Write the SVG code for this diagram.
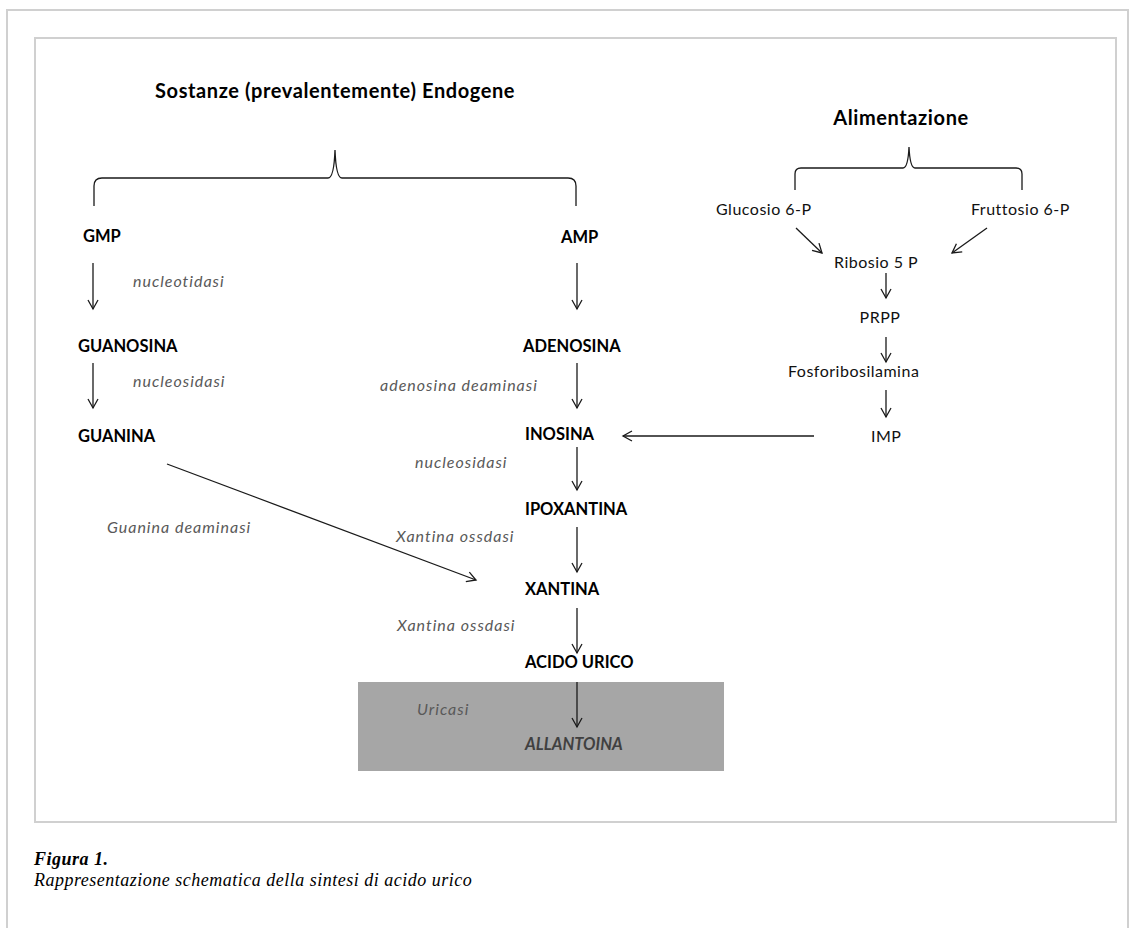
<svg xmlns="http://www.w3.org/2000/svg" width="1130" height="928" viewBox="0 0 1130 928">
<defs>
<style>
.frame{fill:none;stroke:#d0d0d0;stroke-width:2}
.b{font-family:Lato,"Open Sans",sans-serif;font-weight:bold;font-size:16.5px;fill:#000}
.h{font-family:Lato,"Open Sans",sans-serif;font-weight:bold;font-size:20px;letter-spacing:0.6px;fill:#000}
.n{font-family:Lato,"Open Sans",sans-serif;font-size:16px;letter-spacing:0.5px;fill:#111}
.e{font-family:Lato,"Open Sans",sans-serif;font-style:italic;font-size:16px;letter-spacing:1px;fill:#595959}
.cap{font-family:"Liberation Serif",serif;font-style:italic;font-size:18px;letter-spacing:0.5px;fill:#000}
.ln{fill:none;stroke:#1a1a1a;stroke-width:1.3}
</style>
<marker id="ah" markerWidth="12" markerHeight="12" refX="10" refY="6" orient="auto" markerUnits="userSpaceOnUse">
<path d="M1,1 L10,6 L1,11" fill="none" stroke="#1a1a1a" stroke-width="1.3"/>
</marker>
</defs>
<rect width="1130" height="928" fill="#fff"/>
<path class="frame" d="M7,928 L7,10 L1128,10 L1128,928"/>
<rect class="frame" x="35" y="38" width="1081" height="784"/>
<rect x="358" y="682" width="366" height="89" fill="#a6a6a6"/>

<g id="titles">
<text class="h" x="155" y="98">Sostanze (prevalentemente) Endogene</text>
<text class="h" x="901" y="125" text-anchor="middle">Alimentazione</text>
</g>

<g id="braces">
<path class="ln" d="M94,206 L94,186 Q94,178 102,178 L328,178 Q334,178 335,150 Q336,178 342,178 L568,178 Q576,178 576,186 L576,206"/>
<path class="ln" d="M795,190 L795,174 Q795,168 801,168 L903,168 Q908,168 909,147 Q910,168 915,168 L1016,168 Q1022,168 1022,174 L1022,190"/>
</g>

<g id="node-gmp"><text class="b" x="83" y="242">GMP</text></g>
<g id="node-amp"><text class="b" x="561" y="243">AMP</text></g>
<g id="node-guanosina"><text class="b" x="78" y="352">GUANOSINA</text></g>
<g id="node-adenosina"><text class="b" x="523" y="352">ADENOSINA</text></g>
<g id="node-guanina"><text class="b" x="78" y="442">GUANINA</text></g>
<g id="node-inosina"><text class="b" x="525" y="440">INOSINA</text></g>
<g id="node-ipoxantina"><text class="b" x="525" y="515">IPOXANTINA</text></g>
<g id="node-xantina"><text class="b" x="525" y="595">XANTINA</text></g>
<g id="node-acido"><text class="b" x="525" y="668">ACIDO URICO</text></g>
<g id="node-allantoina"><text class="b" x="525" y="750" font-style="italic" style="fill:#404040">ALLANTOINA</text></g>
<g id="node-glucosio"><text class="n" x="716" y="215">Glucosio 6-P</text></g>
<g id="node-fruttosio"><text class="n" x="971" y="215">Fruttosio 6-P</text></g>
<g id="node-ribosio"><text class="n" x="834" y="268">Ribosio 5 P</text></g>
<g id="node-prpp"><text class="n" x="880" y="323" text-anchor="middle">PRPP</text></g>
<g id="node-fosfo"><text class="n" x="788" y="377">Fosforibosilamina</text></g>
<g id="node-imp"><text class="n" x="871" y="442">IMP</text></g>

<g id="enzymes">
<text class="e" x="133" y="287">nucleotidasi</text>
<text class="e" x="133" y="387">nucleosidasi</text>
<text class="e" x="380" y="391">adenosina deaminasi</text>
<text class="e" x="415" y="468">nucleosidasi</text>
<text class="e" x="107" y="533">Guanina deaminasi</text>
<text class="e" x="396" y="542">Xantina ossdasi</text>
<text class="e" x="397" y="631">Xantina ossdasi</text>
<text class="e" x="417" y="715">Uricasi</text>
</g>

<g id="connectors">
<line class="ln" x1="93" y1="263" x2="93" y2="309" marker-end="url(#ah)"/>
<line class="ln" x1="577" y1="263" x2="577" y2="309" marker-end="url(#ah)"/>
<line class="ln" x1="93" y1="363" x2="93" y2="408" marker-end="url(#ah)"/>
<line class="ln" x1="577" y1="363" x2="577" y2="408" marker-end="url(#ah)"/>
<line class="ln" x1="577" y1="447" x2="577" y2="490" marker-end="url(#ah)"/>
<line class="ln" x1="577" y1="527" x2="577" y2="572" marker-end="url(#ah)"/>
<line class="ln" x1="577" y1="608" x2="577" y2="653" marker-end="url(#ah)"/>
<line class="ln" x1="577" y1="682" x2="577" y2="727" marker-end="url(#ah)"/>
<line class="ln" x1="167" y1="464" x2="476" y2="580" marker-end="url(#ah)"/>
<line class="ln" x1="796" y1="228" x2="822" y2="253" marker-end="url(#ah)"/>
<line class="ln" x1="987" y1="228" x2="952" y2="253" marker-end="url(#ah)"/>
<line class="ln" x1="886" y1="273" x2="886" y2="298" marker-end="url(#ah)"/>
<line class="ln" x1="886" y1="337" x2="886" y2="362" marker-end="url(#ah)"/>
<line class="ln" x1="886" y1="390" x2="886" y2="417" marker-end="url(#ah)"/>
<line class="ln" x1="814" y1="436" x2="623" y2="436" marker-end="url(#ah)"/>
</g>

<g id="caption">
<text class="cap" x="34" y="865" font-weight="bold">Figura 1.</text>
<text class="cap" x="34" y="886">Rappresentazione schematica della sintesi di acido urico</text>
</g>
</svg>
